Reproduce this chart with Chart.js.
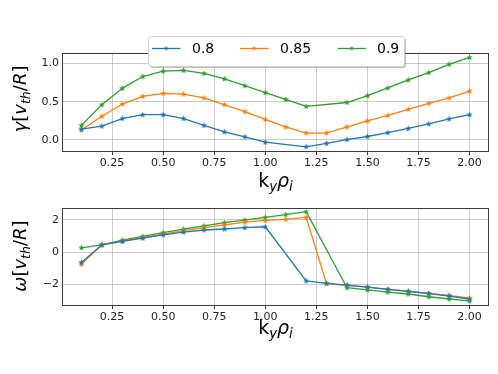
<!DOCTYPE html>
<html>
<head>
<meta charset="utf-8">
<script src="https://cdn.jsdelivr.net/npm/chart.js@4/dist/chart.umd.min.js"></script>
<style>
  html, body { margin: 0; padding: 0; background: #fff; }
  #wrap { position: relative; width: 498px; height: 374px; }
  canvas { position: absolute; left: 0; }
  #cGamma { top: 0; }
  #cOmega { top: 190px; }
</style>
</head>
<body>
<div id="wrap">
  <canvas id="cGamma" width="498" height="202"></canvas>
  <canvas id="cOmega" width="498" height="184"></canvas>
</div>
<script>
// k_y rho_i waarden (x-as)
const kyRho = [0.1, 0.2, 0.3, 0.4, 0.5, 0.6, 0.7, 0.8, 0.9, 1.0,
               1.1, 1.2, 1.3, 1.4, 1.5, 1.6, 1.7, 1.8, 1.9, 2.0];
const seriesNames = ['0.8', '0.85', '0.9'];

// groeisnelheid gamma (null = geen punt)
const gamma08  = [0.14, 0.18, 0.28, 0.33, 0.33, 0.28, 0.19, 0.105, 0.04, -0.03,
                  null, -0.09, -0.045, 0.005, 0.045, 0.095, 0.15, 0.21, 0.275, 0.33];
const gamma085 = [0.13, 0.31, 0.47, 0.57, 0.61, 0.60, 0.55, 0.46, 0.37, 0.27,
                  0.17, 0.09, 0.09, 0.17, 0.25, 0.32, 0.40, 0.48, 0.55, 0.64];
const gamma09  = [0.19, 0.46, 0.675, 0.83, 0.90, 0.91, 0.87, 0.80, 0.71, 0.62,
                  0.53, 0.44, null, 0.49, 0.58, 0.68, 0.785, 0.88, 0.99, 1.08];

// frequentie omega
const omega08  = [-0.64, 0.45, 0.66, 0.87, 1.07, 1.24, 1.37, 1.43, 1.51, 1.57,
                  null, -1.78, -1.93, -2.04, -2.16, -2.3, -2.43, -2.56, -2.72, -2.9];
const omega085 = [-0.75, 0.45, 0.68, 0.9, 1.12, 1.33, 1.52, 1.68, 1.85, 1.96,
                  2.03, 2.15, -1.95, -2.05, -2.17, -2.3, -2.42, -2.55, -2.67, -2.84];
const omega09  = [0.27, 0.45, 0.74, 0.97, 1.2, 1.43, 1.62, 1.82, 1.98, 2.15,
                  2.32, 2.5, null, -2.2, -2.34, -2.47, -2.59, -2.76, -2.9, -3.02];

// tick labels
const xTicks = [0.25, 0.5, 0.75, 1.0, 1.25, 1.5, 1.75, 2.0];
const xTickLabels = ['0.25', '0.50', '0.75', '1.00', '1.25', '1.50', '1.75', '2.00'];
const gammaTicks = [0, 0.5, 1.0];
const gammaTickLabels = ['0.0', '0.5', '1.0'];
const omegaTicks = [-2, 0, 2];
const omegaTickLabels = ['\u22122', '0', '2'];

const COLORS = ['#1f77b4', '#ff7f0e', '#2ca02c'];
const FONT = '"DejaVu Sans", sans-serif';

// gevulde ster als marker (zoals matplotlib '*')
function starMarker(color, r) {
  const c = document.createElement('canvas');
  const s = Math.ceil(r * 2 + 2);
  c.width = s; c.height = s;
  const g = c.getContext('2d');
  g.beginPath();
  for (let i = 0; i < 10; i++) {
    const rad = i % 2 === 0 ? r : r * 0.42;
    const a = -Math.PI / 2 + i * Math.PI / 5;
    const px = s / 2 + rad * Math.cos(a), py = s / 2 + rad * Math.sin(a);
    if (i === 0) g.moveTo(px, py); else g.lineTo(px, py);
  }
  g.closePath();
  g.fillStyle = color;
  g.fill();
  return c;
}
const stars = COLORS.map(c => starMarker(c, 3.3));
const legendStars = COLORS.map(c => starMarker(c, 2.6));

const toPoints = (ys) => kyRho.map((k, i) => ({ x: k, y: ys[i] })).filter(p => p.y !== null);

function makeDatasets(list) {
  return list.map((ys, i) => ({
    label: seriesNames[i],
    data: toPoints(ys),
    borderColor: COLORS[i],
    backgroundColor: COLORS[i],
    borderWidth: 1.3,
    pointStyle: stars[i],
    pointRadius: 3.3,
    pointHoverRadius: 3.3,
    tension: 0
  }));
}

// tekst met subscripts tekenen (mathtext-achtig)
function drawMath(ctx, parts, x, y, size) {
  const fontOf = (p) => `${p.it ? 'italic ' : ''}${p.sub ? size * 0.7 : size}px ${FONT}`;
  let total = 0;
  parts.forEach(p => { ctx.font = fontOf(p); p.w = ctx.measureText(p.t).width; total += p.w; });
  let cx = x - total / 2;
  ctx.textAlign = 'left';
  ctx.textBaseline = 'alphabetic';
  parts.forEach(p => {
    ctx.font = fontOf(p);
    ctx.fillText(p.t, cx, p.sub ? y + size * 0.22 : y);
    cx += p.w;
  });
}

const xLabelParts = () => [{ t: 'k' }, { t: 'y', it: 1, sub: 1 }, { t: 'ρ', it: 1 }, { t: 'i', it: 1, sub: 1 }];
const yLabelParts = (sym) => [{ t: sym, it: 1 }, { t: '[' }, { t: 'v', it: 1 }, { t: 'th', it: 1, sub: 1 },
                             { t: '/' }, { t: 'R', it: 1 }, { t: ']' }];

// assen-omlijsting + labels
function framePlugin(sym, xLabelY, yLabelY) {
  return {
    id: 'frame',
    afterDatasetsDraw(chart) {
      const { ctx, chartArea: a } = chart;
      ctx.save();
      ctx.strokeStyle = '#3c3c3c';
      ctx.lineWidth = 1;
      ctx.strokeRect(Math.round(a.left) + 0.5, Math.round(a.top) + 0.5,
                     Math.round(a.right - a.left) - 1, Math.round(a.bottom - a.top));
      ctx.restore();
    },
    afterDraw(chart) {
      const { ctx, chartArea: a } = chart;
      ctx.save();
      ctx.fillStyle = '#000';
      drawMath(ctx, xLabelParts(), (a.left + a.right) / 2, xLabelY, 19);
      ctx.translate(26, yLabelY);
      ctx.rotate(-Math.PI / 2);
      drawMath(ctx, yLabelParts(sym), 0, 0, 18);
      ctx.restore();
    }
  };
}

// legenda boven de bovenste grafiek
const legendPlugin = {
  id: 'mplLegend',
  afterDraw(chart) {
    const ctx = chart.ctx;
    const box = { x: 148, y: 36, w: 256, h: 30 };
    const lines = [[152, 180.5, 192], [240, 268.5, 280], [337.5, 366, 377]];
    ctx.save();
    ctx.fillStyle = 'rgba(0,0,0,0.25)';
    ctx.beginPath(); ctx.roundRect(box.x + 2, box.y + 2, box.w, box.h, 3); ctx.fill();
    ctx.fillStyle = '#fff';
    ctx.strokeStyle = '#d0d0d0';
    ctx.lineWidth = 1;
    ctx.beginPath(); ctx.roundRect(box.x + 0.5, box.y + 0.5, box.w, box.h, 3); ctx.fill(); ctx.stroke();
    seriesNames.forEach((name, i) => {
      const [x0, x1, tx] = lines[i];
      const ly = 48.5;
      ctx.strokeStyle = COLORS[i];
      ctx.lineWidth = 1.3;
      ctx.beginPath(); ctx.moveTo(x0, ly); ctx.lineTo(x1, ly); ctx.stroke();
      const st = legendStars[i];
      ctx.drawImage(st, (x0 + x1) / 2 - st.width / 2, ly - st.height / 2);
      ctx.fillStyle = '#000';
      ctx.font = `14px ${FONT}`;
      ctx.textAlign = 'left';
      ctx.textBaseline = 'middle';
      ctx.fillText(name, tx, ly + 1);
    });
    ctx.restore();
  }
};

function makeOptions(yMin, yMax, yTicks, yLabels, padTop, xAxisH) {
  const tickFont = { family: FONT, size: 11 };
  return {
    responsive: false,
    animation: false,
    layout: { padding: { top: padTop, right: 9, left: 0, bottom: 0 } },
    plugins: { legend: { display: false }, tooltip: { enabled: false } },
    scales: {
      x: {
        type: 'linear',
        min: 0.005,
        max: 2.095,
        afterBuildTicks: (s) => { s.ticks = xTicks.map(v => ({ value: v })); },
        afterFit: (s) => { s.height = xAxisH; },
        ticks: {
          font: tickFont, color: '#222', padding: 2, maxRotation: 0, autoSkip: false,
          callback: (v) => xTickLabels[xTicks.indexOf(v)] ?? ''
        },
        grid: { color: 'rgba(176,176,176,0.65)', lineWidth: 1, tickLength: 4, tickColor: '#3c3c3c' },
        border: { display: false }
      },
      y: {
        type: 'linear',
        min: yMin,
        max: yMax,
        afterBuildTicks: (s) => { s.ticks = yTicks.map(v => ({ value: v })); },
        afterFit: (s) => { s.width = 62; },
        ticks: {
          font: tickFont, color: '#222', padding: 3, autoSkip: false,
          callback: (v) => yLabels[yTicks.indexOf(v)] ?? ''
        },
        grid: { color: 'rgba(176,176,176,0.65)', lineWidth: 1, drawTicks: false },
        border: { display: false }
      }
    }
  };
}

new Chart(document.getElementById('cGamma').getContext('2d'), {
  type: 'line',
  data: { datasets: makeDatasets([gamma08, gamma085, gamma09]) },
  options: makeOptions(-0.145, 1.138, gammaTicks, gammaTickLabels, 53, 51),
  plugins: [framePlugin('γ', 187, 99), legendPlugin]
});

new Chart(document.getElementById('cOmega').getContext('2d'), {
  type: 'line',
  data: { datasets: makeDatasets([omega08, omega085, omega09]) },
  options: makeOptions(-3.27, 2.73, omegaTicks, omegaTickLabels, 18, 69),
  plugins: [framePlugin('ω', 144, 66)]
});
</script>
</body>
</html>
